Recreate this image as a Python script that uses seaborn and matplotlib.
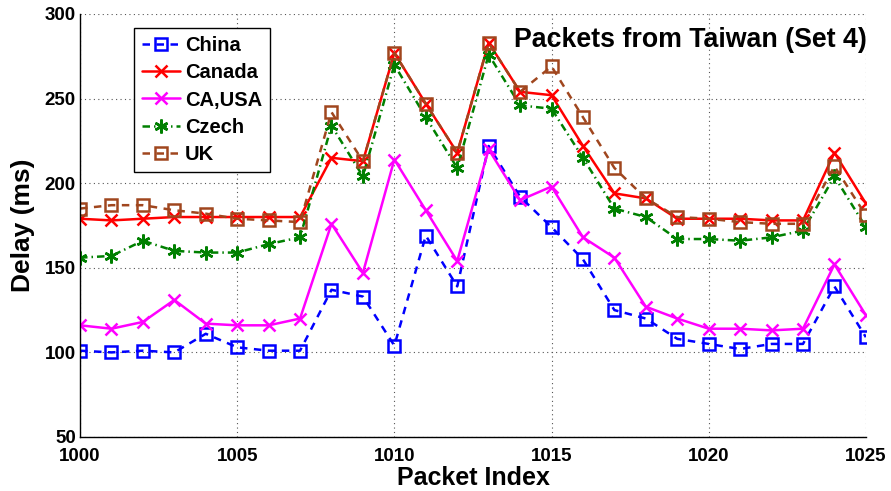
import matplotlib
matplotlib.use("Agg")
import matplotlib.pyplot as plt
from matplotlib import font_manager
import seaborn as sns
import pandas as pd

# Packet indices and measured delays (ms) per destination
packet_index = list(range(1000, 1026))

china = [101, 100, 101, 100, 111, 103, 101, 101, 137, 133, 104, 169, 139,
         222, 192, 174, 155, 125, 120, 108, 105, 102, 105, 105, 139, 109]
canada = [179, 178, 179, 180, 180, 180, 180, 180, 215, 213, 277, 247, 218,
          283, 254, 252, 222, 194, 191, 179, 179, 179, 178, 178, 218, 188]
ca_usa = [116, 114, 118, 131, 117, 116, 116, 120, 176, 147, 214, 184, 154,
          220, 190, 198, 168, 156, 127, 120, 114, 114, 113, 114, 152, 122]
czech = [156, 157, 166, 160, 159, 159, 164, 168, 234, 204, 270, 239, 209,
         276, 246, 244, 215, 185, 180, 167, 167, 166, 168, 172, 204, 174]
uk = [185, 187, 187, 184, 182, 179, 178, 177, 242, 213, 277, 247, 218,
      283, 254, 269, 239, 209, 191, 180, 179, 177, 176, 176, 210, 181]

series_names = ["China", "Canada", "CA,USA", "Czech", "UK"]
series_values = [china, canada, ca_usa, czech, uk]

x_ticks = [1000, 1005, 1010, 1015, 1020, 1025]
y_ticks = [50, 100, 150, 200, 250, 300]

styles = {
    "China":  dict(color="#0000FF", marker="s", linestyle=(0, (3.0, 2.6)), ms=8.5),
    "Canada": dict(color="#FF0000", marker="x", linestyle="-", ms=8.5),
    "CA,USA": dict(color="#FF00FF", marker="x", linestyle="-", ms=8.5),
    "Czech":  dict(color="#008000", marker=(6, 2, 0), linestyle=(0, (3.0, 1.6, 0.6, 1.6)), ms=10),
    "UK":     dict(color="#A0461E", marker="s", linestyle=(0, (3.0, 2.6)), ms=8.5),
}

df = pd.DataFrame({
    "Packet Index": packet_index * len(series_names),
    "Delay": [v for vals in series_values for v in vals],
    "Series": [n for n, vals in zip(series_names, series_values) for _ in vals],
})

sns.set_style("white")


def bold_family(candidates):
    """Pick the first family that has a real bold face installed."""
    for fam in candidates:
        try:
            path = font_manager.findfont(
                font_manager.FontProperties(family=fam, weight="bold"),
                fallback_to_default=False)
        except Exception:
            continue
        if "bold" in path.lower():
            return fam
    return "DejaVu Sans"


family = bold_family(["Liberation Sans", "Arimo", "Roboto", "Open Sans", "Lato"])
plt.rcParams["font.family"] = [family, "DejaVu Sans"]
plt.rcParams["font.weight"] = "bold"
plt.rcParams["axes.labelweight"] = "bold"
for key in ("text.color", "axes.labelcolor", "xtick.color", "ytick.color"):
    plt.rcParams[key] = "black"

fig = plt.figure(figsize=(8.91, 4.91), dpi=100)
ax = fig.add_axes([0.0898, 0.110, 0.882, 0.8615])

for name in series_names:
    st = styles[name]
    sub = df[df["Series"] == name]
    sns.lineplot(
        data=sub, x="Packet Index", y="Delay", ax=ax, label=name,
        color=st["color"], marker=st["marker"], linestyle=st["linestyle"],
        linewidth=1.8, markersize=st["ms"], markeredgewidth=1.8,
        markeredgecolor=st["color"], markerfacecolor="none",
        errorbar=None, sort=False,
    )

ax.set_xlim(1000, 1025)
ax.set_ylim(50, 300)
ax.set_xticks(x_ticks)
ax.set_yticks(y_ticks)
ax.set_xticklabels([str(t) for t in x_ticks], fontsize=13.5, fontweight="bold")
ax.set_yticklabels([str(t) for t in y_ticks], fontsize=13.5, fontweight="bold")

ax.grid(True, linestyle=(0, (1, 3)), color="#555555", linewidth=0.8)
ax.set_axisbelow(True)

for side in ("top", "right"):
    ax.spines[side].set_visible(False)
for side in ("left", "bottom"):
    ax.spines[side].set_color("black")
    ax.spines[side].set_linewidth(1.0)

ax.tick_params(axis="both", direction="in", length=5, width=1.0, colors="black")
ax.tick_params(axis="x", pad=8)
ax.tick_params(axis="y", pad=3)

ax.set_xlabel("Packet Index", fontsize=18, fontweight="bold")
ax.set_ylabel("Delay (ms)", fontsize=19, fontweight="bold")
ax.xaxis.set_label_coords(0.5, -0.068)
ax.yaxis.set_label_coords(-0.057, 0.5)

ax.text(0.777, 0.9385, "Packets from Taiwan (Set 4)", transform=ax.transAxes,
        ha="center", va="center", fontsize=19.3, fontweight="bold")

leg = ax.legend(loc="upper left", bbox_to_anchor=(0.0687, 0.967), borderaxespad=0,
                fontsize=14.5, frameon=True, fancybox=False, edgecolor="black",
                framealpha=1, handlelength=1.9, handletextpad=0.25,
                labelspacing=0.42, borderpad=0.38)
leg.get_frame().set_linewidth(1.0)
for t in leg.get_texts():
    t.set_fontweight("bold")

fig.savefig("out.png", dpi=100)
